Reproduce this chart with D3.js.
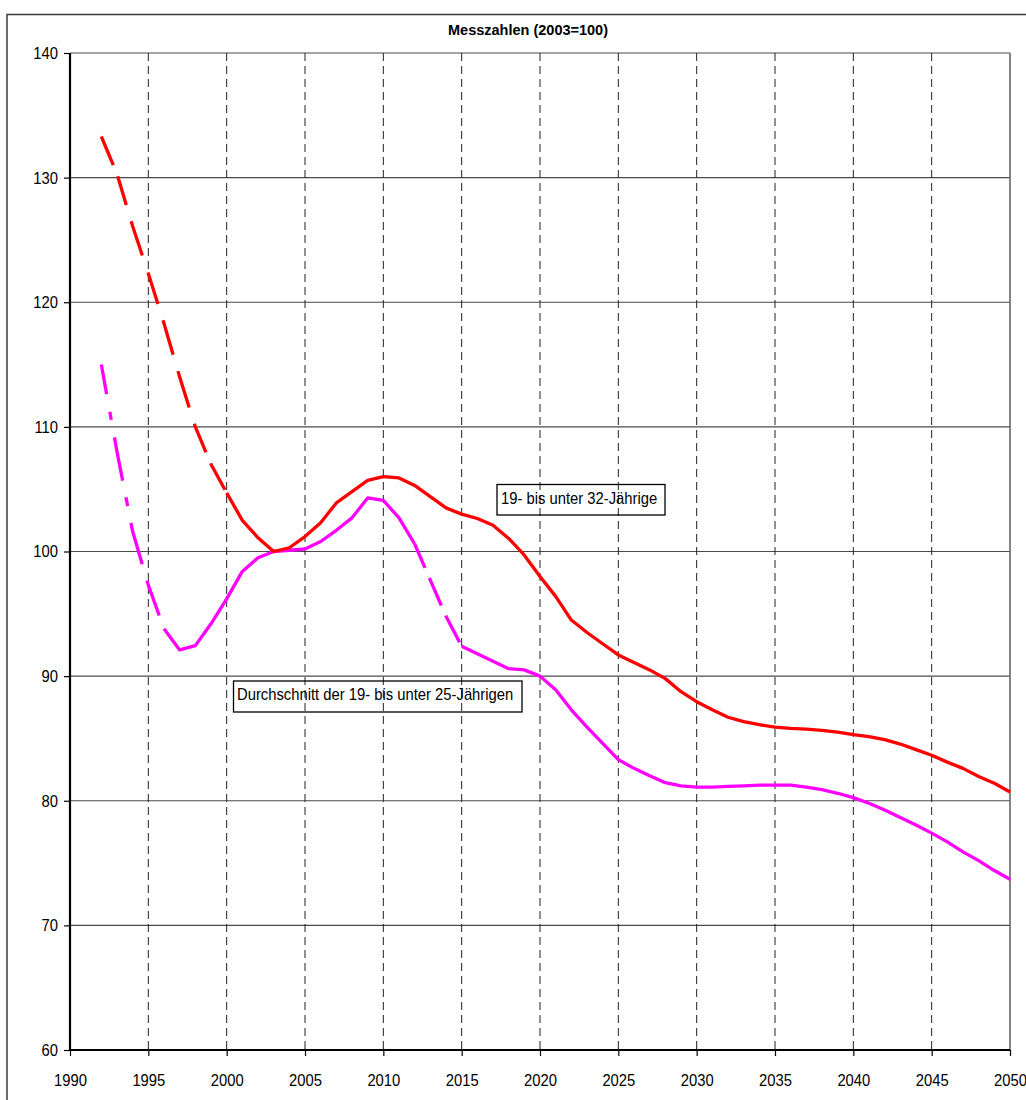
<!DOCTYPE html>
<html>
<head>
<meta charset="utf-8">
<script src="https://cdn.jsdelivr.net/npm/d3@7"></script>
<style>
  body { margin: 0; background: #fff; }
  text { font-family: "Liberation Sans", Arial, sans-serif; }
</style>
</head>
<body>
<script>
// values
const years = [1992, 1993, 1994, 1995, 1996, 1997, 1998, 1999, 2000, 2001,
  2002, 2003, 2004, 2005, 2006, 2007, 2008, 2009, 2010, 2011,
  2012, 2013, 2014, 2015, 2016, 2017, 2018, 2019, 2020, 2021,
  2022, 2023, 2024, 2025, 2026, 2027, 2028, 2029, 2030, 2031,
  2032, 2033, 2034, 2035, 2036, 2037, 2038, 2039, 2040, 2041,
  2042, 2043, 2044, 2045, 2046, 2047, 2048, 2049, 2050];

// 19- bis unter 32-Jährige
const age19to32 = [133.3, 130.3, 126.1, 122.3, 118.3, 114.0, 110.0, 107.0, 104.7, 102.5,
  101.1, 100.0, 100.3, 101.2, 102.3, 103.9, 104.8, 105.7, 106.0, 105.9,
  105.3, 104.4, 103.5, 103.0, 102.65, 102.1, 101.05, 99.7, 98.0, 96.4,
  94.5, 93.5, 92.6, 91.7, 91.1, 90.5, 89.8, 88.75, 87.95, 87.3,
  86.7, 86.35, 86.1, 85.9, 85.8, 85.75, 85.65, 85.5, 85.3, 85.15,
  84.9, 84.55, 84.1, 83.65, 83.1, 82.6, 81.95, 81.4, 80.7];

// Durchschnitt der 19- bis unter 25-Jährigen
const age19to25 = [115.0, 108.0, 101.6, 97.3, 93.8, 92.1, 92.45, 94.2, 96.2, 98.4,
  99.5, 100.0, 100.1, 100.2, 100.8, 101.7, 102.7, 104.3, 104.1, 102.7,
  100.6, 97.7, 94.8, 92.4, 91.8, 91.2, 90.6, 90.5, 90.0, 88.9,
  87.3, 85.9, 84.6, 83.3, 82.6, 82.0, 81.45, 81.2, 81.1, 81.1,
  81.15, 81.2, 81.25, 81.25, 81.25, 81.1, 80.9, 80.6, 80.25, 79.8,
  79.25, 78.65, 78.05, 77.4, 76.7, 75.9, 75.2, 74.4, 73.7];

const xTicks = [1990, 1995, 2000, 2005, 2010, 2015, 2020, 2025, 2030, 2035, 2040, 2045, 2050];
const yTicks = [60, 70, 80, 90, 100, 110, 120, 130, 140];

const title = "Messzahlen (2003=100)";
const label32 = "19- bis unter 32-Jährige";
const label25 = "Durchschnitt der 19- bis unter 25-Jährigen";

const width = 1026;
const height = 1100;

const svg = d3.select("body")
  .append("svg")
  .attr("width", width)
  .attr("height", height);

// outer chart frame (runs off the right and bottom edge)
svg.append("rect")
  .attr("x", 7).attr("y", 14.5)
  .attr("width", 1040).attr("height", 1110)
  .attr("fill", "none")
  .attr("stroke", "#3a3a3a")
  .attr("stroke-width", 1.5);

const x = d3.scaleLinear().domain([1990, 2050]).range([70, 1010]);
const y = d3.scaleLinear().domain([60, 140]).range([1050, 53]);

// horizontal grid
svg.append("g")
  .selectAll("line")
  .data(yTicks.filter(d => d > 60))
  .join("line")
  .attr("x1", x(1990)).attr("x2", x(2050))
  .attr("y1", d => y(d)).attr("y2", d => y(d))
  .attr("stroke", "#4a4a4a")
  .attr("stroke-width", 1.2);

// vertical dashed grid
svg.append("g")
  .selectAll("line")
  .data(xTicks.filter(d => d > 1990 && d < 2050))
  .join("line")
  .attr("x1", d => x(d)).attr("x2", d => x(d))
  .attr("y1", y(140)).attr("y2", y(60))
  .attr("stroke", "#222")
  .attr("stroke-width", 1)
  .attr("stroke-dasharray", "8,5");

// right border of plot
svg.append("line")
  .attr("x1", x(2050)).attr("x2", x(2050))
  .attr("y1", y(140)).attr("y2", y(60))
  .attr("stroke", "#666")
  .attr("stroke-width", 1.6);

// axes
const yAxis = svg.append("g")
  .attr("transform", `translate(${x(1990)},0)`)
  .call(d3.axisLeft(y).tickValues(yTicks).tickSize(6).tickPadding(6));

const xAxis = svg.append("g")
  .attr("transform", `translate(0,${y(60)})`)
  .call(d3.axisBottom(x).tickValues(xTicks).tickFormat(d3.format("d")).tickSize(6).tickPadding(18));

[yAxis, xAxis].forEach(g => {
  g.select(".domain").attr("stroke", "#000").attr("stroke-width", 2.2);
  g.selectAll(".tick line").attr("stroke", "#000").attr("stroke-width", 1.2);
  g.selectAll("text")
    .attr("fill", "#000")
    .style("font-size", "17px")
    .style("font-family", "'Liberation Sans', Arial, sans-serif");
});
xAxis.select(".domain").attr("d", `M${x(1990)},0H${x(2050)}`);
yAxis.select(".domain").attr("d", `M0,${y(140)}V${y(60)}`);

// lines, split where the style of the line changes
function part(values, from, to) {
  const idx = d3.range(years.indexOf(from), years.indexOf(to) + 1);
  return d3.line()
    .x(i => x(years[i]))
    .y(i => y(values[i]))(idx);
}

function draw(values, from, to, color, dash, offset) {
  svg.append("path")
    .attr("d", part(values, from, to))
    .attr("fill", "none")
    .attr("stroke", color)
    .attr("stroke-width", 3.3)
    .attr("stroke-linejoin", "round")
    .attr("stroke-dasharray", dash || null)
    .attr("stroke-dashoffset", offset || 0);
}

const magenta = "#ff00ff";
const red = "#ff0000";

draw(age19to25, 1992, 1996, magenta, "30,18,8,18,44,17,9,17,43,17,37,15");
draw(age19to25, 1996, 2012, magenta);
draw(age19to25, 2012, 2015, magenta, "30,11", 4);
draw(age19to25, 2015, 2050, magenta);

draw(age19to32, 1992, 2000, red, "31,12,30,17,36,18,33,17,36,17,38,17");
draw(age19to32, 2000, 2050, red);

// title
svg.append("text")
  .attr("x", 528).attr("y", 35)
  .attr("text-anchor", "middle")
  .style("font-size", "14.5px")
  .style("font-weight", "bold")
  .text(title);

// boxed series labels (no fill, the grid shows through)
function boxLabel(bx, by, bw, bh, tx, ty, txt) {
  svg.append("rect")
    .attr("x", bx).attr("y", by)
    .attr("width", bw).attr("height", bh)
    .attr("fill", "none")
    .attr("stroke", "#000")
    .attr("stroke-width", 1.3);
  svg.append("text")
    .attr("class", "narrow")
    .attr("x", tx).attr("y", ty)
    .style("font-size", "17px")
    .text(txt);
}

boxLabel(497, 484.5, 168, 30.5, 501, 504, label32);
boxLabel(233.5, 681, 288.5, 31, 237, 699.5, label25);

// the original fonts are condensed: squeeze the regular texts a bit
svg.selectAll(".tick text, text.narrow").each(function() {
  const w = this.getComputedTextLength();
  d3.select(this)
    .attr("textLength", w * 0.87)
    .attr("lengthAdjust", "spacingAndGlyphs");
});
</script>
</body>
</html>
